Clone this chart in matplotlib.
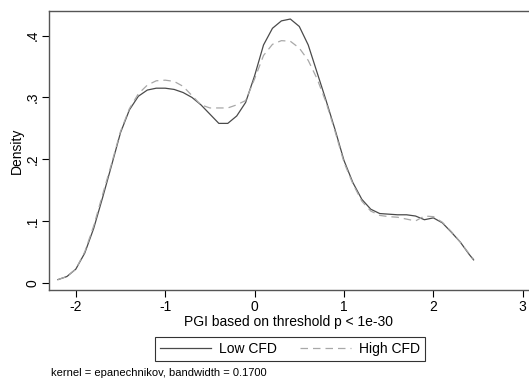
import matplotlib
matplotlib.use('Agg')
import matplotlib.pyplot as plt

plt.rcParams['font.family'] = ['Liberation Sans', 'DejaVu Sans']

# kernel density estimates
x_low = [-2.2, -2.1, -2.0, -1.9, -1.8, -1.7, -1.6, -1.5, -1.4, -1.3, -1.2, -1.1, -1.0,
         -0.9, -0.8, -0.7, -0.6, -0.5, -0.4, -0.3, -0.2, -0.1, 0.0, 0.1, 0.2, 0.3, 0.4,
         0.5, 0.6, 0.7, 0.8, 0.9, 1.0, 1.1, 1.2, 1.3, 1.4, 1.5, 1.6, 1.7, 1.8, 1.9, 2.0,
         2.1, 2.2, 2.3, 2.4, 2.45]
y_low = [0.005, 0.010, 0.022, 0.048, 0.088, 0.138, 0.190, 0.243, 0.280, 0.302, 0.312, 0.315, 0.315,
         0.313, 0.308, 0.300, 0.288, 0.273, 0.258, 0.258, 0.270, 0.292, 0.335, 0.385, 0.412, 0.424, 0.427,
         0.415, 0.385, 0.340, 0.295, 0.248, 0.198, 0.162, 0.135, 0.119, 0.112, 0.111, 0.110, 0.110, 0.108, 0.102, 0.105,
         0.097, 0.082, 0.066, 0.046, 0.037]

x_high = [-2.2, -2.1, -2.0, -1.9, -1.8, -1.7, -1.6, -1.5, -1.4, -1.3, -1.2, -1.1, -1.0,
          -0.9, -0.8, -0.7, -0.6, -0.5, -0.4, -0.3, -0.2, -0.1, 0.0, 0.1, 0.2, 0.3, 0.4,
          0.5, 0.6, 0.7, 0.8, 0.9, 1.0, 1.1, 1.2, 1.3, 1.4, 1.5, 1.6, 1.7, 1.8, 1.9, 2.0,
          2.1, 2.2, 2.3, 2.4, 2.45]
y_high = [0.005, 0.010, 0.022, 0.050, 0.092, 0.143, 0.193, 0.245, 0.282, 0.306, 0.320, 0.327, 0.328,
          0.326, 0.318, 0.303, 0.288, 0.283, 0.283, 0.283, 0.288, 0.295, 0.330, 0.368, 0.386, 0.392, 0.391,
          0.380, 0.360, 0.330, 0.292, 0.245, 0.195, 0.160, 0.132, 0.116, 0.109, 0.107, 0.106, 0.103, 0.100, 0.108, 0.107,
          0.098, 0.083, 0.066, 0.047, 0.038]

xticks = [-2, -1, 0, 1, 2, 3]
yticks = [0, 0.1, 0.2, 0.3, 0.4]
ytick_labels = ['0', '.1', '.2', '.3', '.4']

fig = plt.figure(figsize=(5.29, 3.83), dpi=100)
ax = fig.add_axes([49 / 529, 1 - 290 / 383, 1 - 49 / 529, (290 - 11) / 383])

ax.plot(x_low, y_low, color='#4a4a4a', lw=0.9, label='Low CFD')
ax.plot(x_high, y_high, color='#a8a8a8', lw=0.9, dashes=(6, 4), label='High CFD')

ax.set_xlim(-2.30, 3.07)
ax.set_ylim(-0.0118, 0.44)
ax.set_xticks(xticks)
ax.set_xticklabels([str(t) for t in xticks])
ax.set_yticks(yticks)
ax.set_yticklabels(ytick_labels, rotation=90, va='center')
ax.tick_params(direction='out', length=5, width=0.8, labelsize=10, colors='#000000', pad=2)

for side in ['left', 'top', 'bottom']:
    ax.spines[side].set_color('#555555')
    ax.spines[side].set_linewidth(1.0)
ax.spines['right'].set_visible(False)

ax.set_xlabel('PGI based on threshold p < 1e-30', fontsize=10, labelpad=1)
ax.set_ylabel('Density', fontsize=10, labelpad=1)

leg = fig.legend(loc='center', bbox_to_anchor=(290 / 529, 1 - 349 / 383), ncol=2,
                 frameon=True, fancybox=False, fontsize=10, handlelength=3.7,
                 columnspacing=1.6, borderpad=0.35, handletextpad=0.6)
leg.get_frame().set_edgecolor('#000000')
leg.get_frame().set_linewidth(0.8)

fig.text(51 / 529, 1 - 373 / 383, 'kernel = epanechnikov, bandwidth = 0.1700',
         fontsize=8, va='center', ha='left')

fig.savefig('out.png', dpi=100, facecolor='white')
